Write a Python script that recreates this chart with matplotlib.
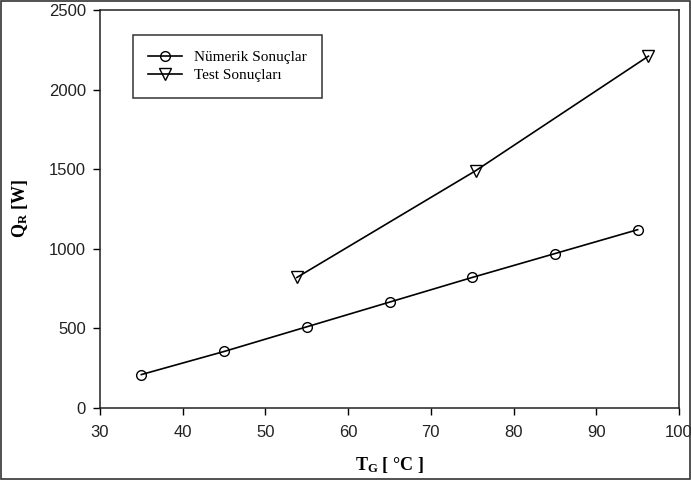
import matplotlib
matplotlib.use("Agg")
import matplotlib.pyplot as plt
from matplotlib.patches import Rectangle

plt.rcParams['mathtext.fontset'] = 'custom'
plt.rcParams['mathtext.rm'] = 'Liberation Serif:bold'
plt.rcParams['mathtext.bf'] = 'Liberation Serif:bold'
plt.rcParams['mathtext.it'] = 'Liberation Serif:bold'

# Data
num_x = [35, 45, 55, 65, 75, 85, 95]
num_y = [210, 355, 510, 665, 820, 970, 1120]
test_x = [53.8, 75.4, 96.3]
test_y = [820, 1490, 2210]
xticks = [30, 40, 50, 60, 70, 80, 90, 100]
yticks = [0, 500, 1000, 1500, 2000, 2500]

fig = plt.figure(figsize=(6.91, 4.84), dpi=100)
ax = fig.add_axes([100/691, 76/484, 579/691, 398/484])

ax.plot(num_x, num_y, color="black", lw=1.2, marker="o", ms=7,
        mfc="none", mec="black", mew=1.0, label="Nümerik Sonuçlar")
ax.plot(test_x, test_y, color="black", lw=1.2, marker="v", ms=8,
        mfc="none", mec="black", mew=1.0, label="Test Sonuçları")

ax.set_xlim(30, 100)
ax.set_ylim(0, 2500)
ax.set_xticks(xticks)
ax.set_yticks(yticks)
ax.set_xticklabels([str(t) for t in xticks], fontsize=12, family="Liberation Sans", color="#222222")
ax.set_yticklabels([str(t) for t in yticks], fontsize=12, family="Liberation Sans", color="#222222")
ax.tick_params(axis="x", direction="out", length=5, width=1, color="black", pad=7)
ax.tick_params(axis="y", direction="out", length=5, width=1, color="black", pad=5)
for s in ax.spines.values():
    s.set_linewidth(1.1)
    s.set_color("#222222")

ax.set_xlabel(r"$\mathrm{T_G}$ [ °C ]", fontsize=13, family="Liberation Serif",
              fontweight="bold", labelpad=11)
ax.set_ylabel(r"$\mathrm{Q_R}$ [W]", fontsize=13, family="Liberation Serif",
              fontweight="bold", labelpad=14)

leg = ax.legend(loc="upper left", bbox_to_anchor=(33/579, 1 - 25/398),
                prop={"family": "Liberation Serif", "size": 11},
                frameon=True, fancybox=False, edgecolor="black",
                handlelength=2.2, borderpad=1.0, labelspacing=0.3,
                borderaxespad=0)
leg.get_frame().set_linewidth(1.1)

fig.patches.append(Rectangle((0.001, 5/484), 0.997, 1 - 6/484, transform=fig.transFigure,
                             fill=False, edgecolor="#333333", lw=1.2))

fig.savefig("out.png", dpi=100)
